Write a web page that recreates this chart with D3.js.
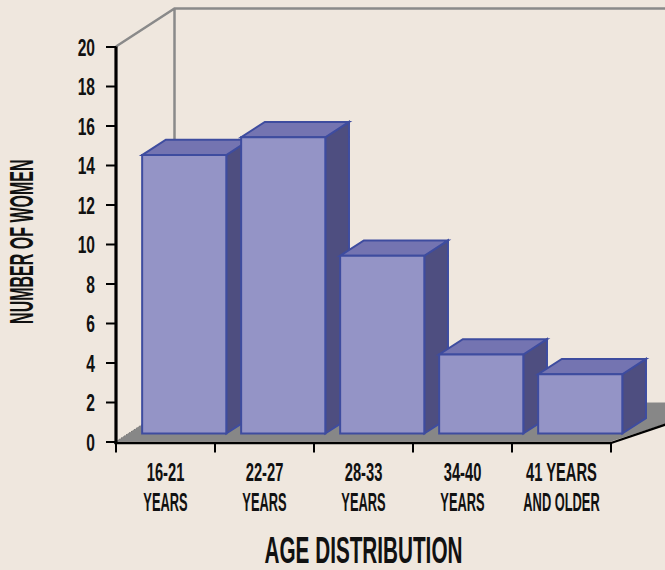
<!DOCTYPE html>
<html>
<head>
<meta charset="utf-8">
<script src="https://cdn.jsdelivr.net/npm/d3@7/dist/d3.min.js"></script>
<style>
  html, body { margin: 0; padding: 0; background: #efe7de; }
  svg { display: block; }
  text { font-family: "Liberation Sans", Arial, sans-serif; font-weight: bold; fill: #111; }
</style>
</head>
<body>
<svg id="chart" width="665" height="570"></svg>
<script>
// Age distribution of the women in the group
const categories = ["16-21 YEARS", "22-27 YEARS", "28-33 YEARS", "34-40 YEARS", "41 YEARS AND OLDER"];
const categoryLines = [["16-21", "YEARS"], ["22-27", "YEARS"], ["28-33", "YEARS"], ["34-40", "YEARS"], ["41 YEARS", "AND OLDER"]];
const womenCount = [14.1, 15, 9, 4, 3];
const yTicks = [0, 2, 4, 6, 8, 10, 12, 14, 16, 18, 20];
const xTitle = "AGE DISTRIBUTION";
const yTitle = "NUMBER OF WOMEN";

const svg = d3.select("#chart");
svg.append("rect").attr("width", 665).attr("height", 570).attr("fill", "#efe7de");

const x = d3.scaleBand().domain(categories).range([116, 611]).padding(0);
const y = d3.scaleLinear().domain([0, 20]).range([441.5, 46.5]);
const bw = x.bandwidth();

// oblique projection: z runs from the front plane (0) to the back wall (1)
const DX = 58.5, DY = -38;
const P = (xf, v, z) => [xf + z * DX, y(v) + z * DY];
const poly = pts => "M" + pts.map(p => p.join(",")).join("L") + "Z";
const [x0, x1] = x.range();

// back wall outline
const wall = d3.path();
wall.moveTo(...P(x0, 20, 0));
wall.lineTo(...P(x0, 20, 1));
wall.lineTo(700, P(x0, 20, 1)[1]);
wall.moveTo(...P(x0, 20, 1));
wall.lineTo(...P(x0, 0, 1));
svg.append("path").attr("d", wall.toString())
  .attr("fill", "none").attr("stroke", "#8a8a8a").attr("stroke-width", 2.5);

// floor
svg.append("path")
  .attr("d", poly([P(x0, 0, 0), P(x1, 0, 0), P(x1 + 60, 0, 1.03), P(x0, 0, 1)]))
  .attr("fill", "#878787");
svg.append("line")
  .attr("x1", P(x0, 0, 0)[0]).attr("y1", P(x0, 0, 0)[1])
  .attr("x2", P(x0, 0, 1)[0]).attr("y2", P(x0, 0, 1)[1])
  .attr("stroke", "#6f6f6f").attr("stroke-width", 1).attr("stroke-dasharray", "1.5,1.5");
svg.append("line")
  .attr("x1", x1).attr("y1", y(0) + 1.5)
  .attr("x2", P(x1 + 60, 0, 1.03)[0]).attr("y2", P(x1 + 60, 0, 1.03)[1])
  .attr("stroke", "#000").attr("stroke-width", 2.2);

// bars
const z0 = 0.21, z1 = 0.615;
const bars = svg.append("g").selectAll("g")
  .data(categories.map((c, i) => ({ c, v: womenCount[i] })))
  .join("g")
  .attr("stroke", "#3e4c9f").attr("stroke-width", 2).attr("stroke-linejoin", "miter");

bars.each(function(d) {
  const g = d3.select(this);
  const xl = x(d.c) + 0.14 * bw, xr = x(d.c) + 0.99 * bw;
  g.append("path").attr("fill", "#4e4e80")
    .attr("d", poly([P(xr, d.v, z0), P(xr, 0, z0), P(xr, 0, z1), P(xr, d.v, z1)]));
  g.append("path").attr("fill", "#7474b1")
    .attr("d", poly([P(xl, d.v, z0), P(xr, d.v, z0), P(xr, d.v, z1), P(xl, d.v, z1)]));
  g.append("path").attr("fill", "#9494c6")
    .attr("d", poly([P(xl, d.v, z0), P(xr, d.v, z0), P(xr, 0, z0), P(xl, 0, z0)]));
});

// y axis
const yAxis = svg.append("g")
  .attr("transform", `translate(${x0},0)`)
  .call(d3.axisLeft(y).tickValues(yTicks).tickSize(10).tickSizeOuter(0));
yAxis.select(".domain").attr("stroke", "#000").attr("stroke-width", 3.2)
  .attr("d", `M0,${y(20)}V${y(0) + 2.5}`);
yAxis.selectAll(".tick line").attr("stroke", "#000").attr("stroke-width", 2);
yAxis.selectAll(".tick text")
  .attr("x", null).attr("dy", null)
  .attr("transform", "translate(-21,8.5) scale(0.65,1)")
  .attr("font-size", 24).attr("fill", "#111")
  .style("font-family", "'Liberation Sans', Arial, sans-serif")
  .style("font-weight", "bold");

// x axis line, category boundary ticks and labels
const xAxis = svg.append("g");
xAxis.append("line")
  .attr("x1", x0 - 1.5).attr("x2", x1).attr("y1", y(0) + 1.5).attr("y2", y(0) + 1.5)
  .attr("stroke", "#000").attr("stroke-width", 2.5);
xAxis.selectAll(".bound")
  .data(categories.map(c => x(c)).concat([x1]))
  .join("line")
  .attr("x1", d => d).attr("x2", d => d)
  .attr("y1", y(0) + 1.5).attr("y2", y(0) + 11)
  .attr("stroke", "#000").attr("stroke-width", 2);
const labels = xAxis.selectAll(".lab")
  .data(categories.map((c, i) => ({ c, lines: categoryLines[i] })))
  .join("g")
  .attr("transform", d => `translate(${x(d.c) + bw / 2},0)`);
labels.each(function(d) {
  d3.select(this).selectAll("text").data(d.lines).join("text")
    .attr("text-anchor", "middle")
    .attr("font-size", 26.5)
    .attr("transform", (t, j) => `translate(0,${481 + j * 29.5}) scale(${j === 0 ? 0.555 : 0.485},1)`)
    .text(t => t);
});

// axis titles
svg.append("text")
  .attr("text-anchor", "middle").attr("font-size", 37)
  .attr("transform", `translate(${(x0 + x1) / 2},562.5) scale(0.56,1)`)
  .text(xTitle);
svg.append("text")
  .attr("text-anchor", "middle").attr("font-size", 33)
  .attr("transform", "translate(32.5,241.7) rotate(-90) scale(0.485,1)")
  .text(yTitle);
</script>
</body>
</html>
